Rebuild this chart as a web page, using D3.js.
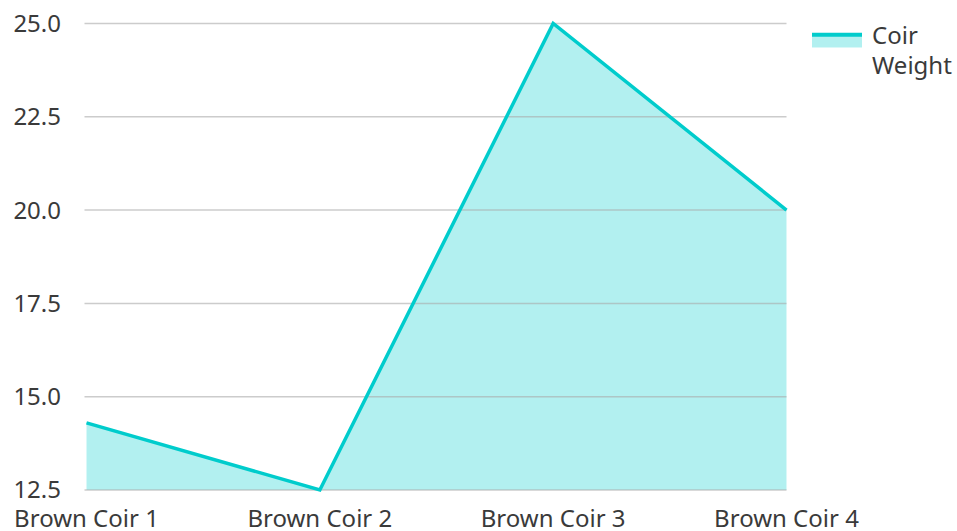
<!DOCTYPE html>
<html>
<head>
<meta charset="utf-8">
<script src="https://cdn.jsdelivr.net/npm/d3@7"></script>
<style>
  html, body { margin: 0; padding: 0; background: #fff; }
  text { font-family: "Noto Sans", "Open Sans", sans-serif; fill: #3a3a3a; }
</style>
</head>
<body>
<div id="chart"></div>
<script>
const categories = ['Brown Coir 1', 'Brown Coir 2', 'Brown Coir 3', 'Brown Coir 4'];
const coir_weight = [14.3, 12.5, 25.0, 20.0];
const y_ticks = [12.5, 15.0, 17.5, 20.0, 22.5, 25.0];
const series_name = ['Coir', 'Weight'];

const LAYOUT = {
  width: 957,
  height: 531,
  margins: { left: 86.5, right: 170.5, top: 23.5, bottom: 41 }
};
const COLOR = '#00cccc';

const width = LAYOUT.width;
const height = LAYOUT.height;
const m = LAYOUT.margins;

const svg = d3.select('#chart').append('svg')
  .attr('width', width)
  .attr('height', height);

const x = d3.scalePoint()
  .domain(categories)
  .range([m.left, width - m.right]);

const y = d3.scaleLinear()
  .domain([12.5, 25])
  .range([height - m.bottom, m.top]);

const data = categories.map((c, i) => ({ c, v: coir_weight[i] }));

// area
svg.append('path')
  .datum(data)
  .attr('fill', COLOR)
  .attr('fill-opacity', 0.3)
  .attr('d', d3.area().x(d => x(d.c)).y0(y(12.5)).y1(d => y(d.v)));

// grid
svg.append('g')
  .selectAll('line')
  .data(y_ticks)
  .join('line')
  .attr('x1', m.left - 2)
  .attr('x2', width - m.right)
  .attr('y1', d => y(d))
  .attr('y2', d => y(d))
  .attr('stroke', '#aaa')
  .attr('stroke-opacity', 0.6)
  .attr('stroke-width', 1.5);

// line
svg.append('path')
  .datum(data)
  .attr('fill', 'none')
  .attr('stroke', COLOR)
  .attr('stroke-width', 3.5)
  .attr('stroke-linejoin', 'miter')
  .attr('d', d3.line().x(d => x(d.c)).y(d => y(d.v)));

// y labels
svg.append('g')
  .selectAll('text')
  .data(y_ticks)
  .join('text')
  .attr('x', 61)
  .attr('y', d => y(d))
  .attr('dy', '0.35em')
  .attr('text-anchor', 'end')
  .attr('font-size', 24)
  .text(d => d.toFixed(1));

// x labels
svg.append('g')
  .selectAll('text')
  .data(categories)
  .join('text')
  .attr('x', d => x(d))
  .attr('y', 526.5)
  .attr('text-anchor', 'middle')
  .attr('font-size', 24)
  .text(d => d);

// legend
const lg = svg.append('g');
lg.append('rect')
  .attr('x', 812).attr('y', 35)
  .attr('width', 50).attr('height', 12.5)
  .attr('fill', COLOR).attr('fill-opacity', 0.3);
lg.append('line')
  .attr('x1', 812).attr('x2', 862)
  .attr('y1', 34.7).attr('y2', 34.7)
  .attr('stroke', COLOR).attr('stroke-width', 4);
lg.selectAll('text')
  .data(series_name)
  .join('text')
  .attr('x', 872)
  .attr('y', (d, i) => 44.3 + i * 30)
  .attr('font-size', 24)
  .text(d => d);
</script>
</body>
</html>
